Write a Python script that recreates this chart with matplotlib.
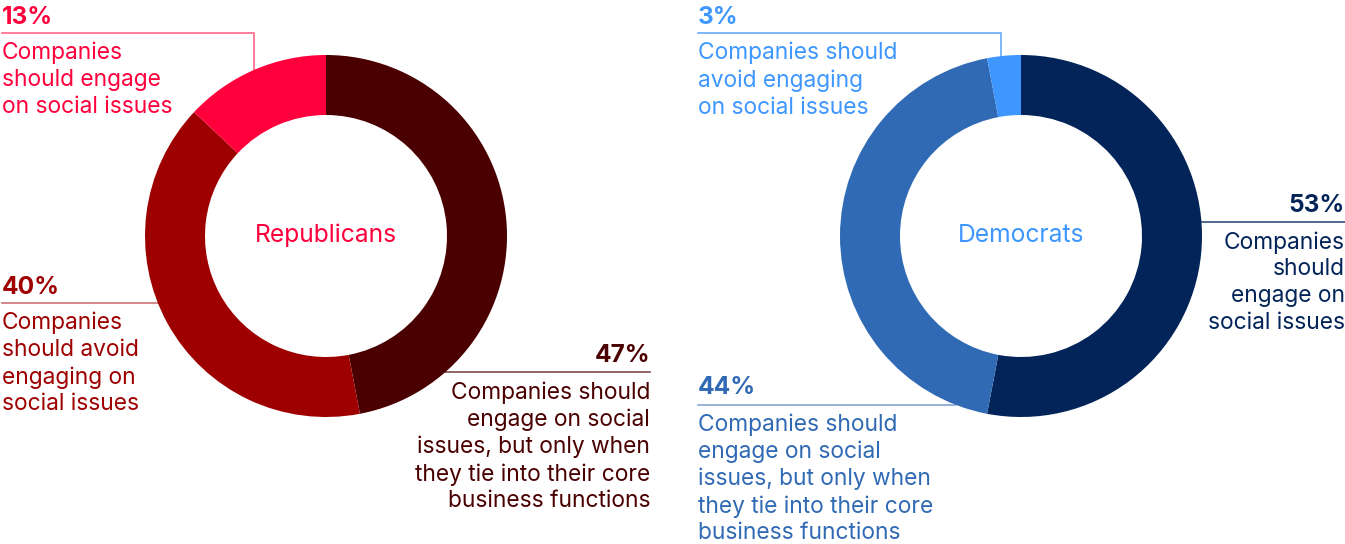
import numpy as np
import matplotlib.pyplot as plt

plt.rcParams['font.family'] = ['Inter', 'DejaVu Sans']

# survey shares, in the order drawn clockwise from 12 o'clock
rep_values = [47, 40, 13]
rep_colors = ['#4a0000', '#9e0000', '#ff003c']
dem_values = [53, 44, 3]
dem_colors = ['#022459', '#3069b4', '#3d97ff']

rep_labels = [
    'Companies should\nengage on social\nissues, but only when\nthey tie into their core\nbusiness functions',
    'Companies\nshould avoid\nengaging on\nsocial issues',
    'Companies\nshould engage\non social issues',
]
dem_labels = [
    'Companies\nshould\nengage on\nsocial issues',
    'Companies should\nengage on social\nissues, but only when\nthey tie into their core\nbusiness functions',
    'Companies should\navoid engaging\non social issues',
]

W, H = 1345, 544
R_OUT = 181
RING = 60
FS = 16.4


def Y(y):
    # page coordinates are measured from the top
    return H - y


def edge_x(cx, cy, y, side):
    dy = y - cy
    return cx + side * np.sqrt(R_OUT ** 2 - dy ** 2)


def edge_y(cx, cy, x):
    dx = x - cx
    return cy - np.sqrt(R_OUT ** 2 - dx ** 2)


def callout(ax, value, label, color, x, y, ha):
    """percent on top, rule under it, wrapped text below"""
    ax.text(x, Y(y), f'{value}%', color=color, fontsize=FS + 1.2,
            fontweight='bold', ha=ha, va='center')
    ax.text(x, Y(y + 25), label, color=color, fontsize=FS, ha=ha, va='top',
            linespacing=1.28)


fig = plt.figure(figsize=(W / 100, H / 100), dpi=100)
ax = fig.add_axes([0, 0, 1, 1])

centers = [(326, 236), (1021, 236)]
for (cx, cy), vals, cols in [(centers[0], rep_values, rep_colors),
                             (centers[1], dem_values, dem_colors)]:
    ax.pie(vals, colors=cols, startangle=90, counterclock=False,
           radius=R_OUT, center=(cx, Y(cy)),
           wedgeprops=dict(width=RING, linewidth=0))

ax.text(326, Y(235), 'Republicans', color='#ff003c', fontsize=17.7,
        ha='center', va='center')
ax.text(1021, Y(235), 'Democrats', color='#3d97ff', fontsize=17.7,
        ha='center', va='center')

# Republicans
rcx, rcy = centers[0]
callout(ax, rep_values[2], rep_labels[2], rep_colors[2], 2, 17, 'left')
ax.plot([2, 254, 254], [Y(33), Y(33), Y(edge_y(rcx, rcy, 254))],
        color=rep_colors[2], alpha=0.6, lw=1.2)

callout(ax, rep_values[1], rep_labels[1], rep_colors[1], 2, 287, 'left')
ax.plot([2, edge_x(rcx, rcy, 303, -1)], [Y(303), Y(303)],
        color=rep_colors[1], alpha=0.55, lw=1.2)

callout(ax, rep_values[0], rep_labels[0], rep_colors[0], 650, 356, 'right')
ax.plot([edge_x(rcx, rcy, 372, 1), 650], [Y(372), Y(372)],
        color=rep_colors[0], alpha=0.7, lw=1.2)

# Democrats
dcx, dcy = centers[1]
callout(ax, dem_values[2], dem_labels[2], dem_colors[2], 698, 17, 'left')
ax.plot([698, 1001, 1001], [Y(33), Y(33), Y(edge_y(dcx, dcy, 1001))],
        color=dem_colors[2], alpha=0.8, lw=1.2)

callout(ax, dem_values[0], dem_labels[0], dem_colors[0], 1345, 206, 'right')
ax.plot([edge_x(dcx, dcy, 222, 1), 1345], [Y(222), Y(222)],
        color=dem_colors[0], alpha=0.8, lw=1.2)

callout(ax, dem_values[1], dem_labels[1], dem_colors[1], 698, 388, 'left')
ax.plot([698, edge_x(dcx, dcy, 405, -1)], [Y(405), Y(405)],
        color=dem_colors[1], alpha=0.6, lw=1.2)

ax.set_xlim(0, W)
ax.set_ylim(0, H)
ax.set_aspect('equal')
ax.axis('off')

fig.savefig('out.png', dpi=100, facecolor='white')
